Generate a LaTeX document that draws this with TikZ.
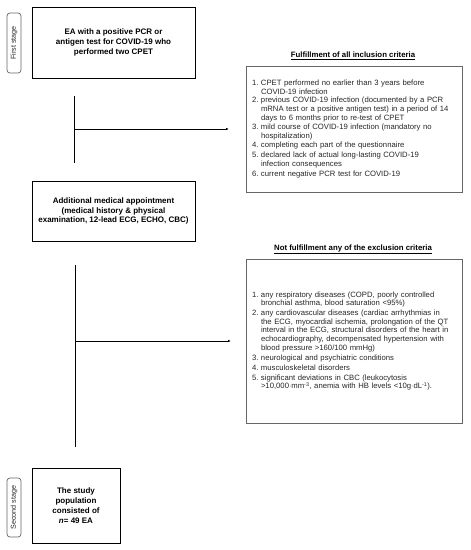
\documentclass[tikz,border=0pt]{standalone}
\usepackage{fontspec}
\setmainfont{Liberation Sans}
\usetikzlibrary{arrows.meta,positioning}
\newcommand{\critem}[2]{\makebox[9pt][l]{#1.}\parbox[t]{194pt}{\raggedright #2}\par\vspace{1.1pt}}
\begin{document}
\begin{tikzpicture}[x=1pt,y=-1pt,
  line/.style = {draw=black, line width=0.7pt},
  arr/.style = {line, -{Latex[length=2.5pt,width=2.4pt]}},
  mainbox/.style = {shape=rectangle, draw=black, line width=0.8pt,
    align=center, font=\fontsize{8}{9.8}\selectfont\bfseries, inner sep=0pt},
  critbox/.style = {shape=rectangle, draw=black!60, line width=0.8pt,
    align=left, text width=204pt, inner xsep=6pt, inner ysep=0pt,
    font=\fontsize{7.7}{8.9}\selectfont, text=black!85},
  head/.style = {font=\fontsize{7.8}{9}\selectfont\bfseries, inner sep=0pt},
  side/.style = {shape=rectangle, rounded corners=3pt, draw=black!60,
    line width=0.7pt, rotate=90, inner sep=0pt, minimum height=14pt,
    font=\fontsize{7.2}{8}\selectfont, text=black!85}]
  \useasboundingbox (0,0) rectangle (471,550);
  % stages
  \node[side, minimum width=60pt] (first) at (14,43) {First stage};
  \node[side, minimum width=59pt] (second) at (14,507.5) {Second stage};
  % main boxes
  \node[mainbox, minimum width=163pt, minimum height=71pt] (ea) at (113.5,42.5)
    {EA with a positive PCR or\\ antigen test for COVID-19 who\\ performed two CPET};
  \node[mainbox, minimum width=163pt, minimum height=60pt] (appt) at (113.5,211)
    {Additional medical appointment\\ (medical history \& physical\\ examination, 12-lead ECG, ECHO, CBC)};
  \node[mainbox, minimum width=88pt, minimum height=75pt] (study) at (76,505.5)
    {The study\\ population\\ consisted of\\ \textit{n}= 49 EA};
  % criteria
  \node[head] (inclhead) at (353,56) {\underline{Fulfillment of all inclusion criteria}};
  \node[critbox, minimum height=126pt] (incl) at (354,129) {%
    \critem{1}{CPET performed no earlier than 3 years before\\ COVID-19 infection}
    \critem{2}{previous COVID-19 infection (documented by a PCR\\ mRNA test or a positive antigen test) in a period of 14\\ days to 6 months prior to re-test of CPET}
    \critem{3}{mild course of COVID-19 infection (mandatory no\\ hospitalization)}
    \critem{4}{completing each part of the questionnaire}
    \critem{5}{declared lack of actual long-lasting COVID-19\\ infection consequences}
    \makebox[9pt][l]{6.}current negative PCR test for COVID-19};
  \node[head] (exclhead) at (353,249) {\underline{Not fulfillment any of the exclusion criteria}};
  \node[critbox, minimum height=164pt] (excl) at (354,341) {%
    \critem{1}{any respiratory diseases (COPD, poorly controlled\\ bronchial asthma, blood saturation <95\%)}
    \critem{2}{any cardiovascular diseases (cardiac arrhythmias in\\ the ECG, myocardial ischemia, prolongation of the QT\\ interval in the ECG, structural disorders of the heart in\\ echocardiography, decompensated hypertension with\\ blood pressure >160/100 mmHg)}
    \critem{3}{neurological and psychiatric conditions}
    \critem{4}{musculoskeletal disorders}
    \makebox[9pt][l]{5.}\parbox[t]{194pt}{\raggedright significant deviations in CBC (leukocytosis\\ >10,000$\cdot$mm\textsuperscript{-3}, anemia with HB levels <10g$\cdot$dL\textsuperscript{-1}).}};
  % connectors
  \draw[line] ([xshift=-39.5pt,yshift=-18pt]ea.south) coordinate (top1)
    -- ([yshift=18pt]top1 |- appt.north);
  \draw[arr] (top1 |- incl.west) -- ([xshift=-17pt]incl.west);
  \draw[line] ([xshift=-38.5pt,yshift=-24pt]appt.south) coordinate (top2)
    -- ([yshift=21pt]top2 |- study.north);
  \draw[arr] (top2 |- excl.west) -- ([xshift=-15pt]excl.west);
\end{tikzpicture}
\end{document}
